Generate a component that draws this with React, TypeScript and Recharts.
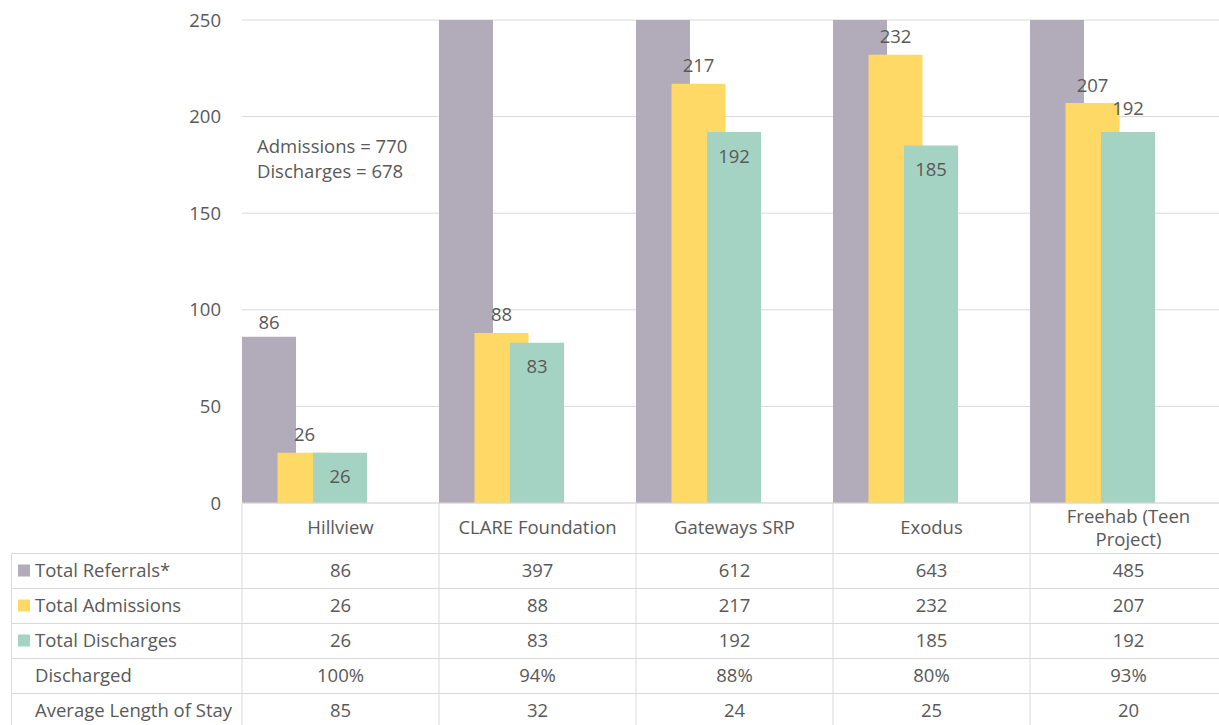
import { BarChart, Bar, XAxis, YAxis, CartesianGrid, LabelList } from "recharts";

const categories = ["Hillview", "CLARE Foundation", "Gateways SRP", "Exodus", "Freehab (Teen Project)"];
const referrals = [86, 397, 612, 643, 485];
const admissions = [26, 88, 217, 232, 207];
const discharges = [26, 83, 192, 185, 192];
const dischargedPct = [100, 94, 88, 80, 93];
const avgStay = [85, 32, 24, 25, 20];
const yTicks = [0, 50, 100, 150, 200, 250];

const GRAY = "#B1ABBA";
const YELLOW = "#FFD966";
const TEAL = "#A4D3C3";
const TEXT = "#595959";
const LINE = "#D9D9D9";
const FONT = "'Open Sans', sans-serif";
const FS = 18.5;

const W = 1230;
const H = 725;
const LEFT = 242;
const RIGHT = 1227;
const TOP = 20;
const BOTTOM = 503;
const BAND = (RIGHT - LEFT) / categories.length;
const HEAD_H = 50;
const ROW_H = 35;
const TABLE_LEFT = 11;

const data = categories.map((name, i) => ({
  name,
  referrals: referrals[i],
  admissions: admissions[i],
  discharges: discharges[i],
  pct: dischargedPct[i],
  stay: avgStay[i],
}));

const rows = [
  { label: "Total Referrals*", color: GRAY, values: referrals.map(String) },
  { label: "Total Admissions", color: YELLOW, values: admissions.map(String) },
  { label: "Total Discharges", color: TEAL, values: discharges.map(String) },
  { label: "Discharged", color: null, values: dischargedPct.map((v) => v + "%") },
  { label: "Average Length of Stay", color: null, values: avgStay.map(String) },
];

// greedy word wrap for the category header cells
const wrap = (text: string, maxW: number) => {
  const words = text.split(" ");
  const lines: string[] = [];
  let cur = "";
  words.forEach((w) => {
    const next = cur ? cur + " " + w : w;
    if (next.length * FS * 0.55 > maxW && cur) {
      lines.push(cur);
      cur = w;
    } else cur = next;
  });
  if (cur) lines.push(cur);
  return lines;
};

// each x tick draws its own column of the data table
const TableTick = (props: any) => {
  const { x, payload, index } = props;
  const l = x - BAND / 2;
  const r = x + BAND / 2;
  const lines = wrap(payload.value, BAND - 16);
  const headMid = BOTTOM + HEAD_H / 2;
  return (
    <g>
      <line x1={l} x2={l} y1={BOTTOM} y2={H} stroke={LINE} />
      {index === categories.length - 1 && <line x1={r} x2={r} y1={BOTTOM} y2={H} stroke={LINE} />}
      {lines.map((t, k) => (
        <text key={k} x={x} y={headMid + (k - (lines.length - 1) / 2) * 23} dy="0.35em" textAnchor="middle"
          fill={TEXT} fontSize={FS} fontFamily={FONT}>{t}</text>
      ))}
      {rows.map((row, k) => {
        const top = BOTTOM + HEAD_H + k * ROW_H;
        return (
          <g key={row.label}>
            <line x1={l} x2={r} y1={top + 0.5} y2={top + 0.5} stroke={LINE} />
            <text x={x} y={top + ROW_H / 2} dy="0.35em" textAnchor="middle" fill={TEXT} fontSize={FS} fontFamily={FONT}>
              {row.values[index]}
            </text>
          </g>
        );
      })}
    </g>
  );
};

const makeLabel = (mode: (i: number) => "above" | "inside", gap: number) => (p: any) => {
  const { x, y, width, value, index } = p;
  if (value > 250) return null;
  const cy = mode(index) === "above" ? y - gap : y + gap;
  return (
    <text x={x + width / 2} y={cy} dy="0.35em" textAnchor="middle" fill={TEXT} fontSize={FS} fontFamily={FONT}>
      {value}
    </text>
  );
};

export default function App() {
  return (
    <div style={{ position: "fixed", left: 0, top: 0, width: 1219, height: 725, overflow: "hidden", background: "#fff" }}>
      <BarChart width={W} height={H} data={data} barCategoryGap={0} barGap={-18.5}
        margin={{ top: TOP, right: W - RIGHT, bottom: 0, left: LEFT - 60 }}>
        <CartesianGrid vertical={false} stroke={LINE} />
        <XAxis dataKey="name" height={H - BOTTOM} axisLine={{ stroke: LINE }} tickLine={false}
          interval={0} tick={<TableTick />} />
        <YAxis width={60} domain={[0, 250]} ticks={yTicks} allowDataOverflow axisLine={false} tickLine={false}
          tickMargin={15} tick={{ fill: TEXT, fontSize: FS, fontFamily: FONT }} />
        <Bar dataKey="referrals" fill={GRAY} isAnimationActive={false}>
          <LabelList dataKey="referrals" content={makeLabel(() => "above", 14)} />
        </Bar>
        <Bar dataKey="admissions" fill={YELLOW} isAnimationActive={false}>
          <LabelList dataKey="admissions" content={makeLabel(() => "above", 18)} />
        </Bar>
        <Bar dataKey="discharges" fill={TEAL} isAnimationActive={false}>
          <LabelList dataKey="discharges" content={makeLabel((i) => (i === 4 ? "above" : "inside"), 24)} />
        </Bar>
        <Bar dataKey="pct" fill="none" isAnimationActive={false} />
        <Bar dataKey="stay" fill="none" isAnimationActive={false} />
      </BarChart>
      <svg width={1219} height={725} style={{ position: "absolute", left: 0, top: 0, pointerEvents: "none" }}>
        <text x={257} y={147} dy="0.35em" fill={TEXT} fontSize={FS} fontFamily={FONT}>Admissions = 770</text>
        <text x={257} y={172} dy="0.35em" fill={TEXT} fontSize={FS} fontFamily={FONT}>Discharges = 678</text>
        <line x1={TABLE_LEFT + 0.5} x2={TABLE_LEFT + 0.5} y1={BOTTOM + HEAD_H} y2={H} stroke={LINE} />
        {rows.map((row, k) => {
          const top = BOTTOM + HEAD_H + k * ROW_H;
          return (
            <g key={row.label}>
              <line x1={TABLE_LEFT} x2={LEFT} y1={top + 0.5} y2={top + 0.5} stroke={LINE} />
              {row.color && <rect x={18} y={top + ROW_H / 2 - 6} width={12} height={12} fill={row.color} />}
              <text x={35} y={top + ROW_H / 2} dy="0.35em" fill={TEXT} fontSize={FS} fontFamily={FONT}>{row.label}</text>
            </g>
          );
        })}
      </svg>
    </div>
  );
}
